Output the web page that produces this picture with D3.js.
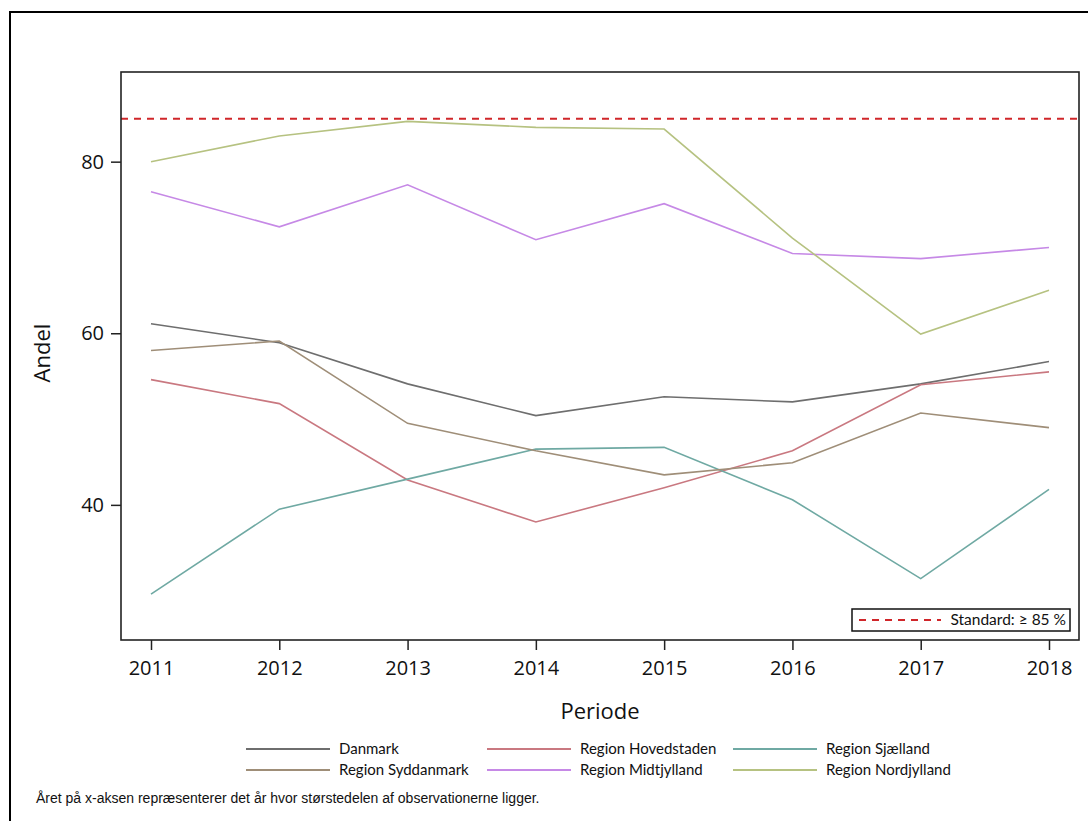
<!DOCTYPE html>
<html><head><meta charset="utf-8">
<script src="https://cdn.jsdelivr.net/npm/d3@7"></script>
<style>body{margin:0;background:#fff}svg{display:block}</style>
</head><body>
<script>
const years = [2011, 2012, 2013, 2014, 2015, 2016, 2017, 2018];
const yTicks = [40, 60, 80];
const seriesNames = ["Danmark", "Region Hovedstaden", "Region Sjælland", "Region Syddanmark", "Region Midtjylland", "Region Nordjylland"];
const danmark     = [61.1, 58.9, 54.1, 50.4, 52.6, 52.0, 54.1, 56.7];
const hovedstaden = [54.6, 51.8, 42.9, 38.0, 42.0, 46.3, 54.0, 55.5];
const sjaelland   = [29.6, 39.5, 43.0, 46.5, 46.7, 40.6, 31.4, 41.8];
const syddanmark  = [58.0, 59.1, 49.5, 46.3, 43.5, 44.9, 50.7, 49.0];
const midtjylland = [76.5, 72.4, 77.3, 70.9, 75.1, 69.3, 68.7, 70.0];
const nordjylland = [80.0, 83.0, 84.7, 84.0, 83.8, 71.1, 59.9, 65.0];
const standard = 85;
const standardLabel = "Standard: ≥ 85 %";
const colors = ["#6e6e6e", "#c97880", "#6fa9a3", "#9f8e78", "#c689e6", "#b6c281"];
const seriesValues = [danmark, hovedstaden, sjaelland, syddanmark, midtjylland, nordjylland];

const W = 1088, H = 821;
const svg = d3.select("body").append("svg").attr("width", W).attr("height", H);

// outer frame
svg.append("rect").attr("x", 10).attr("y", 12).attr("width", 1100).attr("height", 900)
  .attr("fill", "none").attr("stroke", "#000").attr("stroke-width", 2);

const L = 121, T = 72, R = 1079, B = 640;
const x = d3.scaleLinear().domain([2011, 2018]).range([151, 1049]);
const y = d3.scaleLinear().domain([24.25, 90.45]).range([B, T]);

// axes
const xAxis = svg.append("g").attr("transform", `translate(0,${B})`)
  .call(d3.axisBottom(x).tickValues(years).tickFormat(d3.format("d")).tickSizeOuter(0).tickSize(10).tickPadding(11));
const yAxis = svg.append("g").attr("transform", `translate(${L},0)`)
  .call(d3.axisLeft(y).tickValues(yTicks).tickSizeOuter(0).tickSize(10).tickPadding(7));
[xAxis, yAxis].forEach(g => {
  g.select(".domain").remove();
  g.selectAll("line").attr("stroke", "#222").attr("stroke-width", 1.5);
  g.selectAll("text").attr("font-family", "'Open Sans', sans-serif").attr("font-size", 20).attr("fill", "#111");
});

// clip
svg.append("clipPath").attr("id", "clip").append("rect")
  .attr("x", L).attr("y", T).attr("width", R - L).attr("height", B - T);

const line = d3.line().x((d, i) => x(years[i])).y(d => y(d));
const pg = svg.append("g").attr("clip-path", "url(#clip)");
pg.append("line").attr("x1", L).attr("x2", R).attr("y1", y(standard)).attr("y2", y(standard))
  .attr("stroke", "#d0262a").attr("stroke-width", 2).attr("stroke-dasharray", "7,6");
seriesValues.forEach((vals, k) => {
  pg.append("path").datum(vals).attr("d", line).attr("fill", "none")
    .attr("stroke", colors[k]).attr("stroke-width", 1.6);
});

// plot frame
svg.append("rect").attr("x", L).attr("y", T).attr("width", R - L).attr("height", B - T)
  .attr("fill", "none").attr("stroke", "#222").attr("stroke-width", 1.6);

// inset legend
const lg = svg.append("g");
lg.append("rect").attr("x", 852).attr("y", 609).attr("width", 218).attr("height", 22)
  .attr("fill", "#fff").attr("stroke", "#111").attr("stroke-width", 1.5);
lg.append("line").attr("x1", 859).attr("x2", 941).attr("y1", 620).attr("y2", 620)
  .attr("stroke", "#d0262a").attr("stroke-width", 2).attr("stroke-dasharray", "7,6");
lg.append("text").attr("x", 1066).attr("y", 625).attr("text-anchor", "end")
  .attr("font-family", "Lato, sans-serif").attr("font-size", 15.5).attr("fill", "#111").text(standardLabel);

// axis labels
svg.append("text").attr("x", 600).attr("y", 719).attr("text-anchor", "middle")
  .attr("font-family", "'Open Sans', sans-serif").attr("font-size", 22).attr("fill", "#111").text("Periode");
svg.append("text").attr("transform", "translate(50,353) rotate(-90)").attr("text-anchor", "middle")
  .attr("font-family", "'Open Sans', sans-serif").attr("font-size", 22).attr("fill", "#111").text("Andel");

// bottom legend
const colX = [246, 487, 733];
const rowY = [749, 770];
seriesNames.forEach((name, k) => {
  const cx = colX[k % 3], cy = rowY[Math.floor(k / 3)];
  svg.append("line").attr("x1", cx).attr("x2", cx + 84).attr("y1", cy).attr("y2", cy)
    .attr("stroke", colors[k]).attr("stroke-width", 2);
  svg.append("text").attr("x", cx + 93).attr("y", cy + 5)
    .attr("font-family", "Lato, sans-serif").attr("font-size", 15).attr("fill", "#111").text(name);
});

svg.append("text").attr("x", 36).attr("y", 803)
  .attr("font-family", "'Liberation Sans', Arial, sans-serif").attr("font-size", 14).attr("fill", "#111")
  .text("Året på x-aksen repræsenterer det år hvor størstedelen af observationerne ligger.");
</script>
</body></html>
